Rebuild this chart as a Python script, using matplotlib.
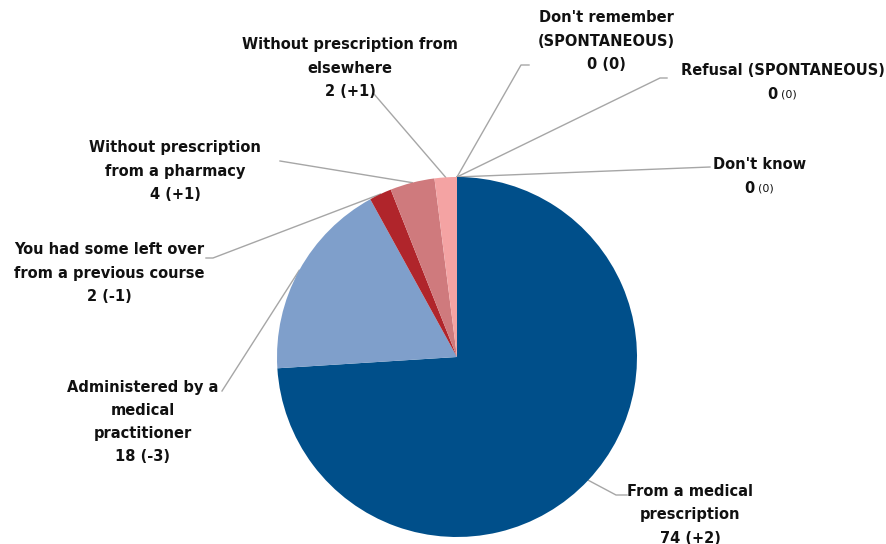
import matplotlib.pyplot as plt
import numpy as np

# datos del gráfico
categorias = ['From a medical\nprescription',
              'Administered by a\nmedical\npractitioner',
              'You had some left over\nfrom a previous course',
              'Without prescription\nfrom a pharmacy',
              'Without prescription from\nelsewhere',
              "Don't remember\n(SPONTANEOUS)",
              'Refusal (SPONTANEOUS)',
              "Don't know"]
valores = [74, 18, 2, 4, 2, 0, 0, 0]
cambios = ['+2', '-3', '-1', '+1', '+1', '0', '0', '0']
colores = ['#004F8A', '#7F9FCB', '#B0252B', '#CF7A7D', '#F4A3A3',
           '#CCCCCC', '#CCCCCC', '#CCCCCC']

# posiciones (píxeles, origen arriba-izquierda): centro del texto, codo de la línea, final
H = 544
textos_pos = [(690, 515), (143, 422), (109, 273), (175, 171),
              (350, 68), (606, 41), (783, 82), (760, 176)]
codos = [(616, 495), (222, 391), (213, 258), (280, 161),
         (374, 94), (521, 65), (660, 78), (710, 167)]
finales = [(627, 495), (222, 391), (206, 258), (280, 161),
           (374, 94), (529, 65), (667, 78), (710, 167)]
pequeno = [False, False, False, False, False, False, True, True]

plt.rcParams.update({'font.family': 'DejaVu Sans', 'font.weight': 'bold'})

fig = plt.figure(figsize=(8.87, 5.44), dpi=100)
ax = fig.add_axes([0, 0, 1, 1])

cx, cy, r = 457, H - 357, 180
cunas, _ = ax.pie(valores, colors=colores, startangle=90, counterclock=False,
                  center=(cx, cy), radius=r, frame=True,
                  wedgeprops={'linewidth': 0})
ax.set_xlim(0, 887)
ax.set_ylim(0, H)
ax.set_aspect('equal')
ax.axis('off')

for i, w in enumerate(cunas):
    ang = np.deg2rad((w.theta1 + w.theta2) / 2)
    x0, y0 = cx + r * np.cos(ang), cy + r * np.sin(ang)
    xs = [x0, codos[i][0], finales[i][0]]
    ys = [y0, H - codos[i][1], H - finales[i][1]]
    ax.plot(xs, ys, color='#A6A6A6', lw=1, zorder=0)

    tx, ty = textos_pos[i]
    if not pequeno[i]:
        texto = f'{categorias[i]}\n{valores[i]} ({cambios[i]})'
        ax.text(tx, H - ty, texto, ha='center', va='center', fontsize=10.5,
                fontweight='bold', linespacing=1.68, color='#111111')
    else:
        ax.text(tx, H - ty + 12, categorias[i], ha='center', va='center',
                fontsize=10.5, fontweight='bold', color='#111111')
        ax.text(tx - 5, H - ty - 12, f'{valores[i]}', ha='right', va='center',
                fontsize=10.5, fontweight='bold', color='#111111')
        ax.text(tx - 2, H - ty - 12, f'({cambios[i]})', ha='left', va='center',
                fontsize=8, fontweight='normal', color='#111111')

plt.savefig('out.png', dpi=100)
